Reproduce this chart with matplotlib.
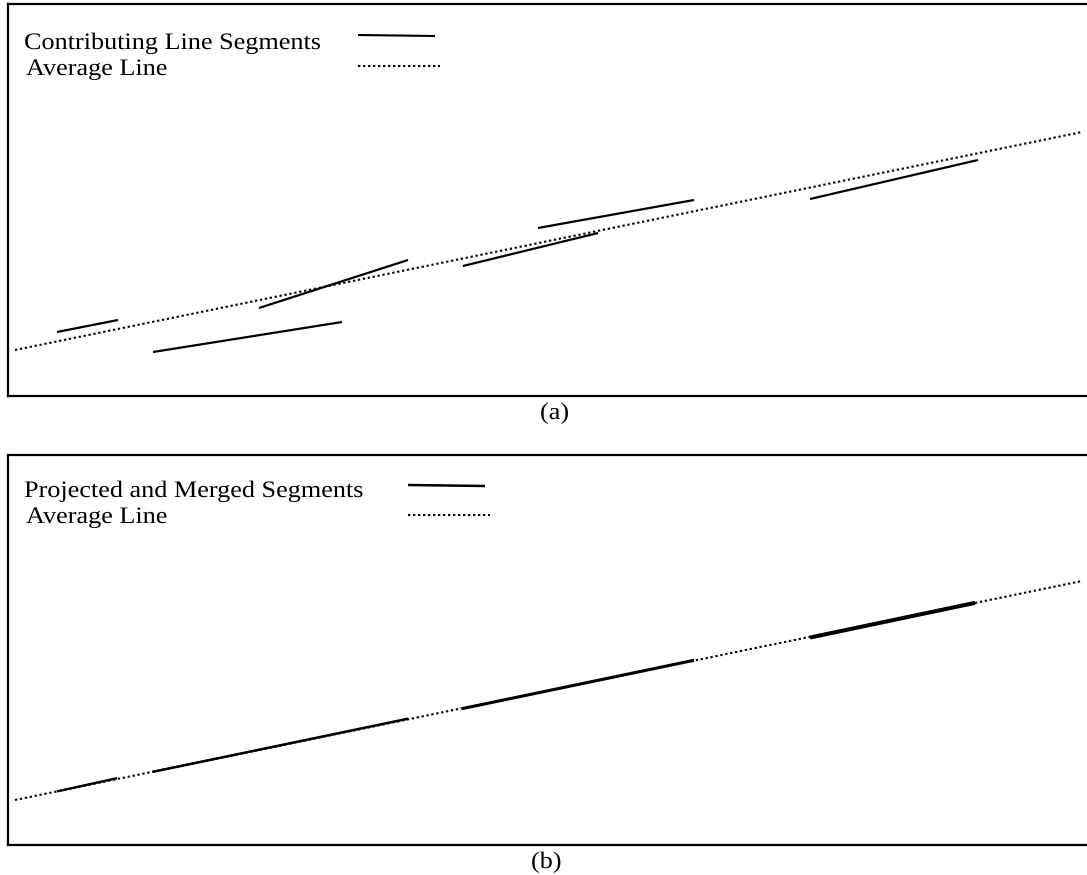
import matplotlib
matplotlib.use("Agg")
import matplotlib.pyplot as plt
import matplotlib.transforms as mtransforms
from matplotlib.patheffects import AbstractPathEffect

# ---------------- data ----------------
# contributing line segments (panel a)
seg_x0 = [57, 153, 259, 463, 538, 810]
seg_x1 = [118, 342, 408, 598, 694, 978]
seg_y0 = [64, 44, 88, 130, 168, 197]
seg_y1 = [76, 74, 136, 163, 196, 236]

# average line
avg_x = [15, 1082]
avg_y = [46, 264]

# projected and merged segments (panel b), x-extents along the average line
merged_x0 = [57, 153, 462, 810]
merged_x1 = [117, 408, 694, 975]
merged_lw = [1.7, 1.8, 2.2, 2.9]

legend_a = ["Contributing Line Segments", "Average Line"]
legend_b = ["Projected and Merged Segments", "Average Line"]
panel_labels = ["(a)", "(b)"]

# ---------------- helpers ----------------
W, H = 1087, 875
DPI = 100


class HStretch(AbstractPathEffect):
    """Render text stretched horizontally (text stays a Text artist)."""
    def __init__(self, sx):
        super().__init__()
        self.sx = sx

    def draw_path(self, renderer, gc, tpath, affine, rgbFace=None):
        x0, y0 = affine.transform((0, 0))
        t = affine + mtransforms.Affine2D().translate(-x0, -y0).scale(self.sx, 1).translate(x0, y0)
        renderer.draw_path(gc, tpath, t, rgbFace)


FONT = "Liberation Serif"
FS = 17
SX = 1.11
stretch = [HStretch(SX)]

fig = plt.figure(figsize=(W / DPI, H / DPI), dpi=DPI)
pix = mtransforms.Affine2D().scale(1 / W, -1 / H).translate(0, 1) + fig.transFigure


def avg_at(x):
    return avg_y[0] + (avg_y[1] - avg_y[0]) * (x - avg_x[0]) / (avg_x[1] - avg_x[0])


def make_axes(top, bottom):
    left = 8
    ax = fig.add_axes([left / W, 1 - bottom / H, 1 - left / W + 0.01, (bottom - top) / H])
    ax.set_xlim(left, W + 0.01 * W)
    ax.set_ylim(0, bottom - top)
    ax.set_xticks([])
    ax.set_yticks([])
    for s in ["left", "top", "bottom"]:
        ax.spines[s].set_linewidth(1.6)
        ax.spines[s].set_color("black")
    ax.spines["right"].set_visible(False)
    ax.set_facecolor("white")
    return ax


avg_style = dict(color="black", lw=1.5, linestyle=(0, (1.1, 1.3)))

# ---------------- panel (a) ----------------
axa = make_axes(4, 396)
axa.plot(avg_x, avg_y, **avg_style)
for x0, x1, y0, y1 in zip(seg_x0, seg_x1, seg_y0, seg_y1):
    axa.plot([x0, x1], [y0, y1], color="black", lw=1.6, solid_capstyle="butt")

# ---------------- panel (b) ----------------
axb = make_axes(455, 845)
axb.plot(avg_x, [avg_y[0] - 1, avg_y[1]], **avg_style)
for x0, x1, lw in zip(merged_x0, merged_x1, merged_lw):
    axb.plot([x0, x1], [avg_at(x0) - 1, avg_at(x1)], color="black", lw=lw, solid_capstyle="butt")

# ---------------- legends (manual, in pixel layout) ----------------
def legend(texts, top_base, key_x0, key_x1, key_y_solid, key_y_dot, solid_lw):
    fig.text(24, top_base, texts[0], transform=pix, family=FONT, fontsize=FS,
             va="baseline", ha="left", path_effects=stretch)
    fig.text(26, top_base + 26, texts[1], transform=pix, family=FONT, fontsize=FS,
             va="baseline", ha="left", path_effects=stretch)
    fig.add_artist(plt.Line2D([key_x0, key_x1], [key_y_solid, key_y_solid + 1], transform=pix,
                              color="black", lw=solid_lw, solid_capstyle="butt"))
    fig.add_artist(plt.Line2D([key_x0, key_x1 + 5], [key_y_dot, key_y_dot], transform=pix, **avg_style))


legend(legend_a, 49, 358, 435, 35, 66, 1.5)
legend(legend_b, 497, 408, 485, 485, 515, 1.8)

# ---------------- panel labels ----------------
fig.text(540, 419, panel_labels[0], transform=pix, family=FONT, fontsize=FS,
         va="baseline", ha="left", path_effects=stretch)
fig.text(531, 868, panel_labels[1], transform=pix, family=FONT, fontsize=FS,
         va="baseline", ha="left", path_effects=stretch)

fig.savefig("out.png", dpi=DPI, facecolor="white")
